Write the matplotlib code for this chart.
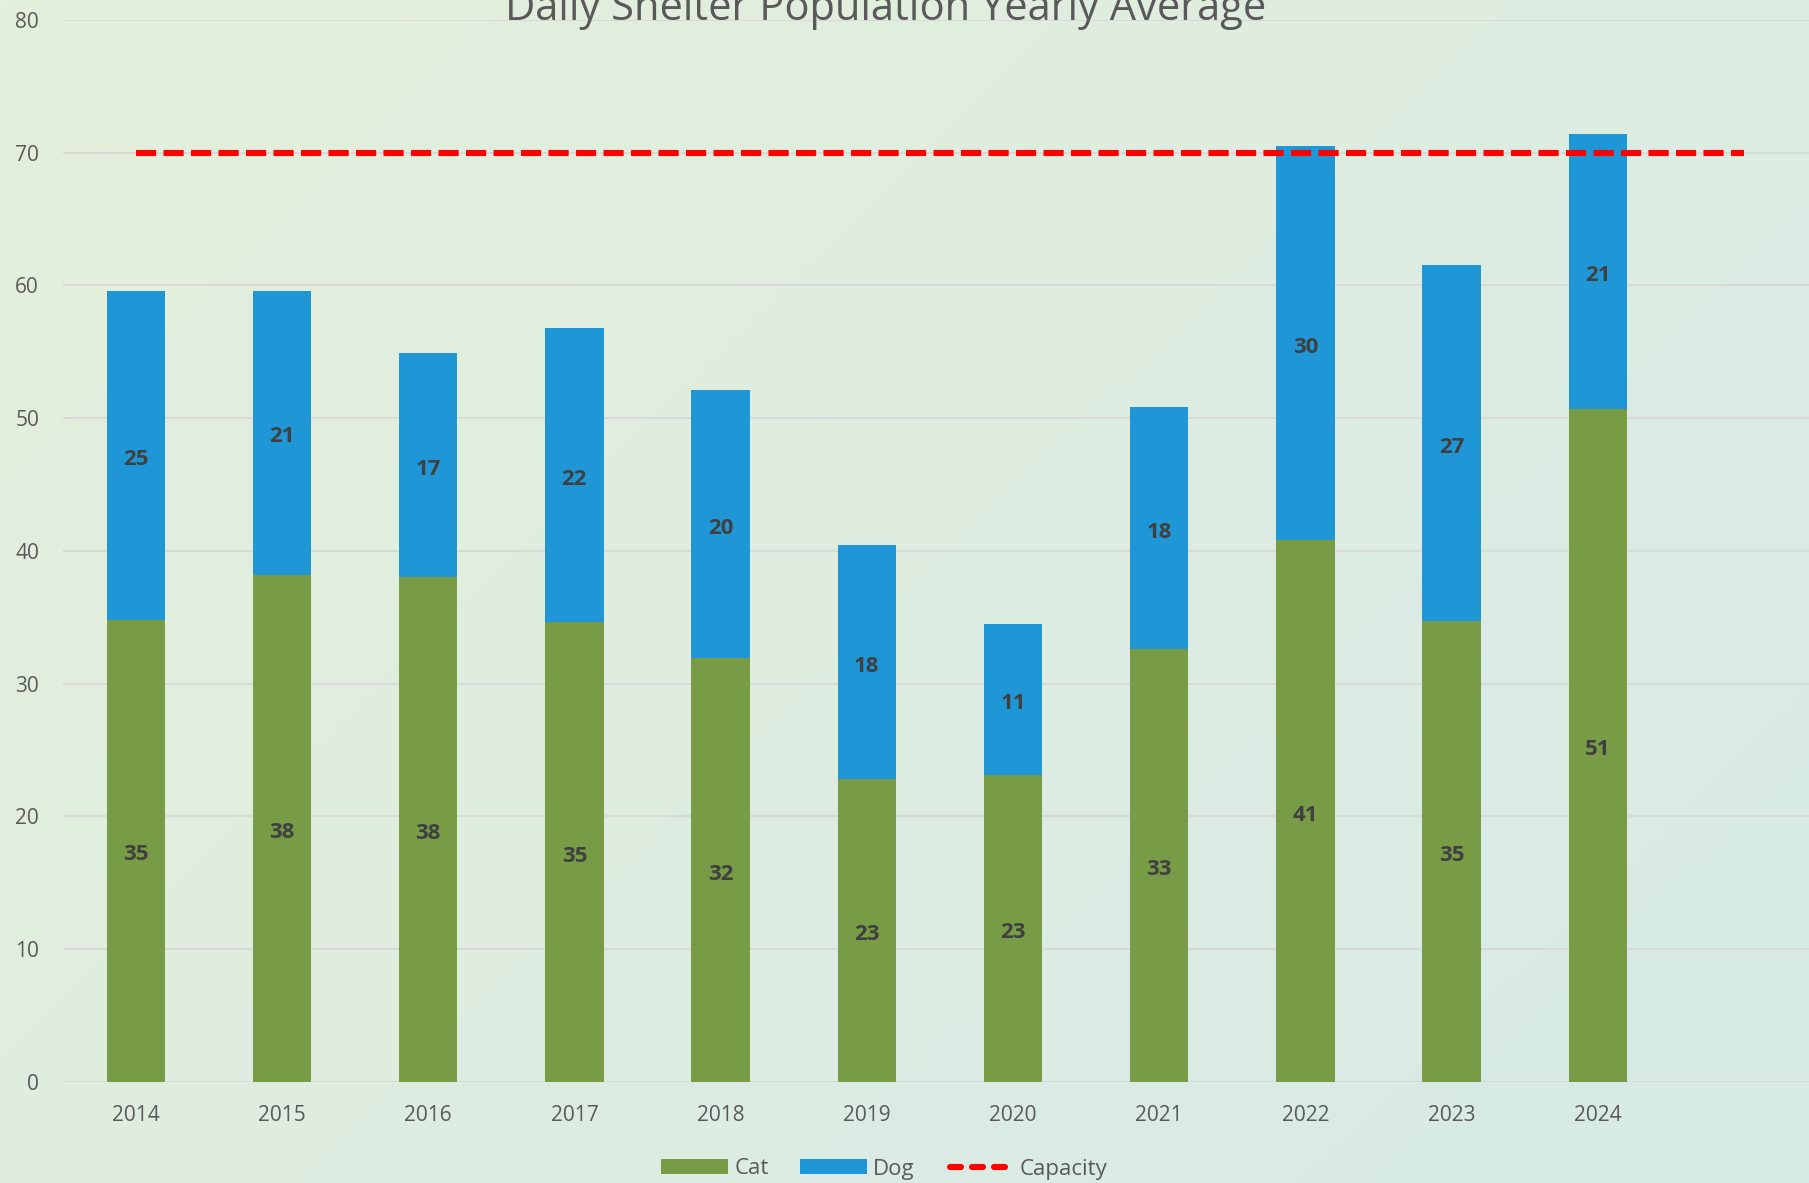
import numpy as np
import matplotlib
matplotlib.use("Agg")
import matplotlib.pyplot as plt
from matplotlib.patches import Patch
from matplotlib.lines import Line2D
from matplotlib.legend_handler import HandlerLine2D

years = ["2014", "2015", "2016", "2017", "2018", "2019", "2020", "2021", "2022", "2023", "2024"]
cat = [34.8, 38.2, 38.0, 34.6, 31.9, 22.8, 23.1, 32.6, 40.8, 34.7, 50.7]
dog = [24.8, 21.4, 16.9, 22.2, 20.2, 17.6, 11.4, 18.2, 29.7, 26.8, 20.7]
capacity = [70] * 12  # spans 2014 through the empty slot after 2024

plt.rcParams['font.family'] = ['Open Sans', 'DejaVu Sans']

W, H = 1809, 1183
fig = plt.figure(figsize=(W / 100, H / 100), dpi=100)

# gradient background
bg = fig.add_axes([0, 0, 1, 1], zorder=-10)
yy, xx = np.mgrid[0:1:200j, 0:1:300j]
t = np.clip(0.6 * xx + 0.4 * yy, 0, 1)
c0 = np.array([229, 240, 219]) / 255
c1 = np.array([215, 234, 231]) / 255
img = c0[None, None, :] * (1 - t[..., None]) + c1[None, None, :] * t[..., None]
bg.imshow(img, aspect='auto', extent=[0, 1, 0, 1], origin='upper')
bg.axis('off')

left = 62.7 / W
bottom = (H - 1081.6) / H
top = (H - 20) / H
ax = fig.add_axes([left, bottom, 1 - left, top - bottom])
ax.patch.set_alpha(0)

x = np.arange(len(years))
bw = 0.4
cat_color = '#789B46'
dog_color = '#1F97D7'
ax.bar(x, cat, bw, color=cat_color, zorder=3)
ax.bar(x, dog, bw, bottom=cat, color=dog_color, zorder=3)

for i in range(len(years)):
    ax.annotate(f"{round(cat[i])}", (x[i], cat[i] / 2), xytext=(0, -3),
                textcoords='offset points', ha='center', va='center',
                fontsize=16, fontweight='bold', color='#404040', zorder=5)
    ax.annotate(f"{round(dog[i])}", (x[i], cat[i] + dog[i] / 2), xytext=(0, -3),
                textcoords='offset points', ha='center', va='center',
                fontsize=16, fontweight='bold', color='#404040', zorder=5)

xc = np.arange(len(capacity))
ax.plot(xc, capacity, color='#FF0000', lw=4.4, dashes=(3.3, 1.2),
        dash_capstyle='butt', zorder=4)

px_per_cat = 146.2
ax.set_xlim(-0.5, -0.5 + (W - 62.7) / px_per_cat)
ax.set_ylim(0, 80)
ax.set_yticks(range(0, 81, 10))
ax.set_xticks(x)
ax.set_xticklabels(years)
ax.yaxis.grid(True, color='#D9D9D9', lw=1.5, zorder=0)
ax.set_axisbelow(True)
for s in ax.spines.values():
    s.set_visible(False)
ax.tick_params(axis='both', length=0, labelsize=15, colors='#595959')
ax.tick_params(axis='x', pad=17)
ax.tick_params(axis='y', pad=17)

fig.text(886 / W, 1 - 20 / H, "Daily Shelter Population Yearly Average",
         ha='center', va='baseline', fontsize=30, color='#595959')

cap_handle = Line2D([0], [0], color='#FF0000', lw=4.4, dashes=(1.8, 1.8),
                    solid_capstyle='round', dash_capstyle='round', label='Capacity')
handles = [Patch(facecolor=cat_color, label='Cat'),
           Patch(facecolor=dog_color, label='Dog'),
           cap_handle]
fig.legend(handles=handles, loc='center', bbox_to_anchor=(884 / W, 14 / H),
           ncol=3, frameon=False, fontsize=16, handlelength=3.0,
           handleheight=0.62, handletextpad=0.3, columnspacing=1.4,
           labelcolor='#595959',
           handler_map={cap_handle: HandlerLine2D(numpoints=2, marker_pad=0.2)})

fig.savefig('out.png', dpi=100)
